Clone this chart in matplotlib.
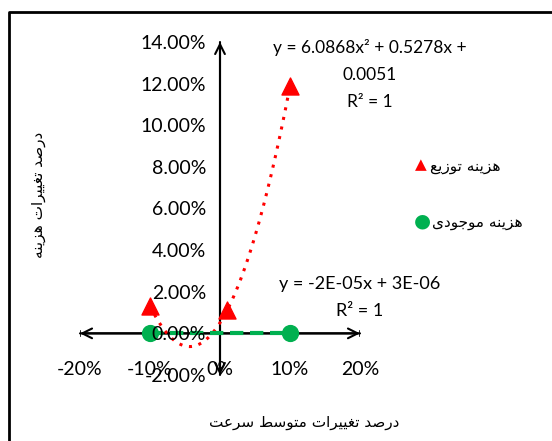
import matplotlib
matplotlib.use("Agg")
import matplotlib.pyplot as plt
from matplotlib.lines import Line2D
from matplotlib.ticker import PercentFormatter

# data
dist_x = [-0.10, 0.01, 0.10]
dist_y = [0.0132, 0.0110, 0.1187]
stock_x = [-0.10, 0.10]
stock_y = [0.0, 0.0]
quad_coef = [6.0868, 0.5278, 0.0051]
lin_coef = [-2e-05, 3e-06]
x_ticks = [-0.2, -0.1, 0.0, 0.1, 0.2]
y_ticks = [-0.02, 0.0, 0.02, 0.04, 0.06, 0.08, 0.10, 0.12, 0.14]
label_dist = "هزینه توزیع"
label_stock = "هزینه موجودی"
x_title = "درصد تغییرات متوسط سرعت"
y_title = "درصد تغییرات هزینه"
eq_quad = "y = 6.0868x² + 0.5278x +\n0.0051\nR² = 1"
eq_lin = "y = -2E-05x + 3E-06\nR² = 1"

RED = "#FF0000"
GREEN = "#00B050"

# minimal Persian shaping: (isolated, final, initial, medial)
FORMS = {
    "ا": ("\uFE8D", "\uFE8E", None, None),
    "د": ("\uFEA9", "\uFEAA", None, None),
    "ر": ("\uFEAD", "\uFEAE", None, None),
    "ز": ("\uFEAF", "\uFEB0", None, None),
    "و": ("\uFEED", "\uFEEE", None, None),
    "ه": ("\uFEE9", "\uFEEA", "\uFEEB", "\uFEEC"),
    "ی": ("\uFBFC", "\uFBFD", "\uFBFE", "\uFBFF"),
    "ن": ("\uFEE5", "\uFEE6", "\uFEE7", "\uFEE8"),
    "ت": ("\uFE95", "\uFE96", "\uFE97", "\uFE98"),
    "ع": ("\uFEC9", "\uFECA", "\uFECB", "\uFECC"),
    "م": ("\uFEE1", "\uFEE2", "\uFEE3", "\uFEE4"),
    "ج": ("\uFE9D", "\uFE9E", "\uFE9F", "\uFEA0"),
    "ص": ("\uFEB9", "\uFEBA", "\uFEBB", "\uFEBC"),
    "غ": ("\uFECD", "\uFECE", "\uFECF", "\uFED0"),
    "س": ("\uFEB1", "\uFEB2", "\uFEB3", "\uFEB4"),
    "ط": ("\uFEC1", "\uFEC2", "\uFEC3", "\uFEC4"),
}


def shape(s):
    out = []
    for i, ch in enumerate(s):
        if ch not in FORMS:
            out.append(ch)
            continue
        prev = s[i - 1] if i > 0 else ""
        nxt = s[i + 1] if i + 1 < len(s) else ""
        pj = prev in FORMS and FORMS[prev][2] is not None
        nj = nxt in FORMS and FORMS[ch][2] is not None
        iso, fin, ini, med = FORMS[ch]
        if pj and nj:
            out.append(med)
        elif pj:
            out.append(fin)
        elif nj:
            out.append(ini)
        else:
            out.append(iso)
    return "".join(out)[::-1]


plt.rcParams["font.family"] = ["Lato", "DejaVu Sans"]
plt.rcParams["axes.unicode_minus"] = False
FS = 14
FS_FA = 11

fig = plt.figure(figsize=(5.52, 4.41), dpi=100)
ax = fig.add_axes([80 / 552, 1 - 375 / 441, 280 / 552, 333 / 441])

# outer chart border
fig.add_artist(Line2D([9 / 552, 9 / 552, 1], [0, 1 - 12 / 441, 1 - 12 / 441],
                      transform=fig.transFigure, color="black", lw=2))

ax.set_xlim(-0.2, 0.2)
ax.set_ylim(-0.02, 0.14)
for s in ax.spines.values():
    s.set_visible(False)

# axis arrows
arw = dict(arrowstyle="->,head_length=0.7,head_width=0.35", color="black", lw=1.5,
           shrinkA=0, shrinkB=0)
for a, b in [((-0.2, 0), (0.2, 0)), ((0.2, 0), (-0.2, 0)),
             ((0, 0.14), (0, -0.02)), ((0, -0.02), (0, 0.14))]:
    ax.annotate("", xy=a, xytext=b, arrowprops=arw, zorder=0.5)

ax.set_xticks(x_ticks)
ax.set_yticks(y_ticks)
ax.xaxis.set_major_formatter(PercentFormatter(1.0, decimals=0))
ax.yaxis.set_major_formatter(PercentFormatter(1.0, decimals=2))
ax.tick_params(axis="x", length=0, labelsize=FS, pad=20)
ax.tick_params(axis="y", length=0, labelsize=FS, pad=10)
ax.spines["left"].set_position(("data", 0))
ax.spines["bottom"].set_position(("data", 0))
ax.xaxis.set_zorder(6)
ax.yaxis.set_zorder(6)
# small end ticks on the horizontal axis
ax.plot([-0.2, -0.2], [-0.0012, 0.0012], color="black", lw=1.2, zorder=0.6)
ax.plot([0.2, 0.2], [-0.0012, 0.0012], color="black", lw=1.2, zorder=0.6)

# trendlines
xs = [i / 200 * 0.2 - 0.1 for i in range(201)]
ax.plot(xs, [quad_coef[0] * x * x + quad_coef[1] * x + quad_coef[2] for x in xs],
        color=RED, ls=(0, (1, 2.2)), lw=2.2, zorder=3)
ax.plot(xs, [lin_coef[0] * x + lin_coef[1] for x in xs],
        color=GREEN, ls=(0, (3.2, 1.6)), lw=3, zorder=3)

ax.scatter(stock_x, stock_y, s=130, color=GREEN, marker="o", zorder=4)
ax.scatter(dist_x, dist_y, s=150, color=RED, marker="^", zorder=5)

ax.text(0.214, 0.1416, eq_quad, ha="center", va="top", fontsize=12.5,
        linespacing=1.85, clip_on=False)
ax.text(0.200, 0.0275, eq_lin, ha="center", va="top", fontsize=13,
        linespacing=1.8, clip_on=False)

# legend (manual, Excel style)
fig.text(421 / 552, 1 - 165 / 441, "\u25B2", color=RED, fontsize=11,
         ha="center", va="center", family="DejaVu Sans")
fig.text(430 / 552, 1 - 166 / 441, shape(label_dist), fontsize=FS_FA, ha="left",
         va="center", family="DejaVu Sans")
fig.text(422 / 552, 1 - 221 / 441, "\u25CF", color=GREEN, fontsize=14,
         ha="center", va="center", family="DejaVu Sans")
fig.text(432 / 552, 1 - 222 / 441, shape(label_stock), fontsize=FS_FA, ha="left",
         va="center", family="DejaVu Sans")

fig.text(304 / 552, 1 - 423 / 441, shape(x_title), fontsize=FS_FA, ha="center",
         va="center", family="DejaVu Sans")
fig.text(38 / 552, 1 - 195 / 441, shape(y_title), fontsize=FS_FA, ha="center",
         va="center", rotation=90, family="DejaVu Sans")

fig.savefig("out.png", dpi=100)
